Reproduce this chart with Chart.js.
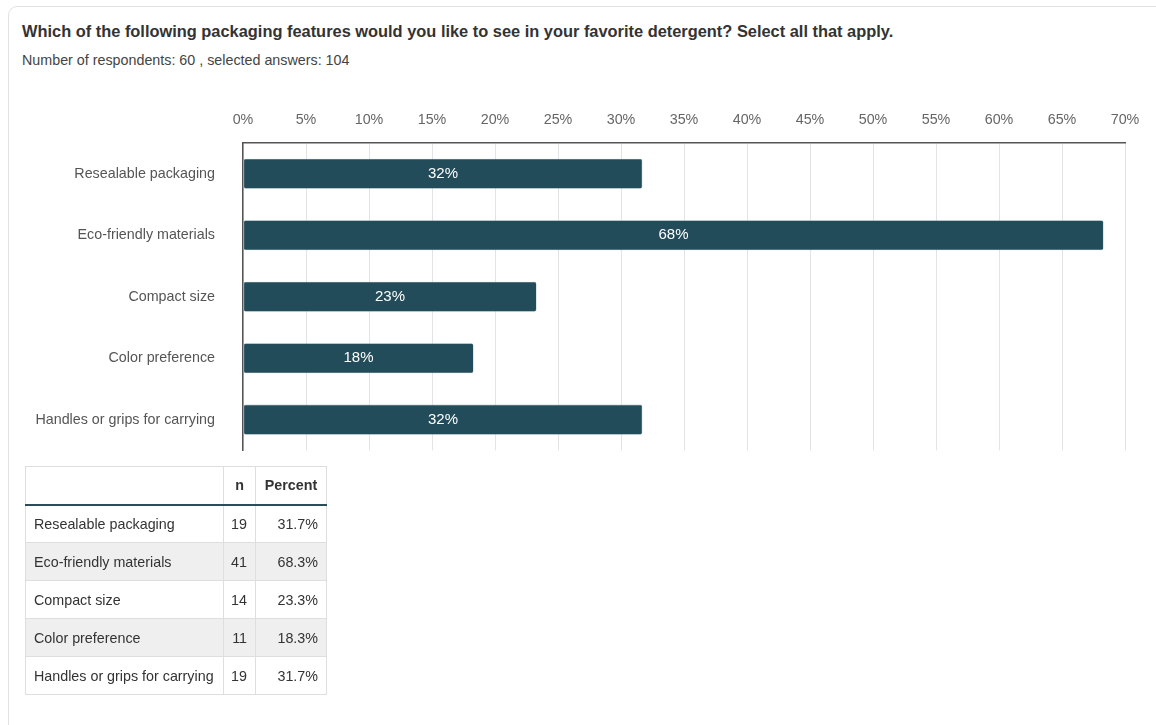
<!DOCTYPE html>
<html>
<head>
<meta charset="utf-8">
<script src="https://cdn.jsdelivr.net/npm/chart.js@4"></script>
<style>
  html, body { margin: 0; padding: 0; background: #fff; font-family: "Liberation Sans", Arial, sans-serif; }
  body { width: 1156px; height: 725px; overflow: hidden; position: relative; }
  .card { position: absolute; left: 8px; top: 6px; width: 1170px; height: 740px; border: 1px solid #e2e2e2; border-radius: 9px; }
  .title { position: absolute; left: 22px; top: 22px; font-size: 16.4px; font-weight: bold; color: #333; }
  .sub { position: absolute; left: 22px; top: 52px; font-size: 14.3px; color: #444; }
  .chartBox { position: absolute; left: 0; top: 0; width: 1156px; height: 487px; }
  table { position: absolute; left: 25px; top: 466px; border-collapse: collapse; font-size: 14.3px; color: #333; white-space: nowrap; }
  th, td { border: 1px solid #dedede; height: 38px; padding: 0 8px; box-sizing: border-box; }
  th { font-weight: bold; text-align: center; border-bottom: 2px solid #2b4c59; }
  td.num { text-align: right; padding: 0 8px 0 4px; }
  tr.alt td { background: #efefef; }
</style>
</head>
<body>
<div class="card"></div>
<div class="title">Which of the following packaging features would you like to see in your favorite detergent? Select all that apply.</div>
<div class="sub">Number of respondents: 60 , selected answers: 104</div>
<div class="chartBox"><canvas id="barChart"></canvas></div>
<table id="tbl"></table>
<script>
const categories = ['Resealable packaging', 'Eco-friendly materials', 'Compact size', 'Color preference', 'Handles or grips for carrying'];
const counts = [19, 41, 14, 11, 19];
const percents = [31.7, 68.3, 23.3, 18.3, 31.7];
const xTicks = [0, 5, 10, 15, 20, 25, 30, 35, 40, 45, 50, 55, 60, 65, 70];

const FONT = '"Liberation Sans", Arial, sans-serif';

// white percentage text in the middle of each bar
const barLabels = {
  id: 'barLabels',
  afterDatasetsDraw(chart) {
    const ctx = chart.ctx;
    const meta = chart.getDatasetMeta(0);
    ctx.save();
    ctx.font = '15px ' + FONT;
    ctx.fillStyle = '#ffffff';
    ctx.textAlign = 'center';
    ctx.textBaseline = 'middle';
    meta.data.forEach((bar, i) => {
      const cx = (bar.x + bar.base) / 2;
      ctx.fillText(Math.round(percents[i]) + '%', cx, bar.y);
    });
    ctx.restore();
  }
};

const ctx = document.getElementById('barChart').getContext('2d');
new Chart(ctx, {
  type: 'bar',
  data: {
    labels: categories,
    datasets: [{
      data: percents,
      backgroundColor: '#234c5a',
      borderColor: '#9fb4bb',
      borderWidth: 0.6,
      borderRadius: 2,
      borderSkipped: false,
      categoryPercentage: 1,
      barPercentage: 0.49
    }]
  },
  options: {
    indexAxis: 'y',
    responsive: true,
    maintainAspectRatio: false,
    animation: false,
    layout: { padding: { left: 0, right: 31, top: 0, bottom: 10 } },
    plugins: { legend: { display: false }, tooltip: { enabled: false } },
    scales: {
      x: {
        position: 'top',
        min: 0,
        max: 70,
        afterBuildTicks(scale) { scale.ticks = xTicks.map(v => ({ value: v })); },
        afterFit(scale) { scale.height = 143; },
        ticks: {
          color: '#666',
          font: { size: 14.3, family: FONT },
          padding: 14,
          callback: v => v + '%'
        },
        grid: { color: '#e3e3e3', drawTicks: false },
        border: { color: '#555', width: 1.5 }
      },
      y: {
        afterFit(scale) { scale.width = 243; },
        ticks: {
          color: '#555',
          font: { size: 14.3, family: FONT },
          padding: 28
        },
        grid: { display: false, drawTicks: false },
        border: { color: '#555', width: 1.5 }
      }
    }
  },
  plugins: [barLabels]
});

// summary table under the chart
const tbl = document.getElementById('tbl');
let html = '<tr><th style="width:198px"></th><th style="width:32px">n</th><th style="width:71px">Percent</th></tr>';
categories.forEach((c, i) => {
  html += '<tr' + (i % 2 === 1 ? ' class="alt"' : '') + '><td>' + c + '</td><td class="num">' + counts[i] +
    '</td><td class="num">' + percents[i].toFixed(1) + '%</td></tr>';
});
tbl.innerHTML = html;
</script>
</body>
</html>
